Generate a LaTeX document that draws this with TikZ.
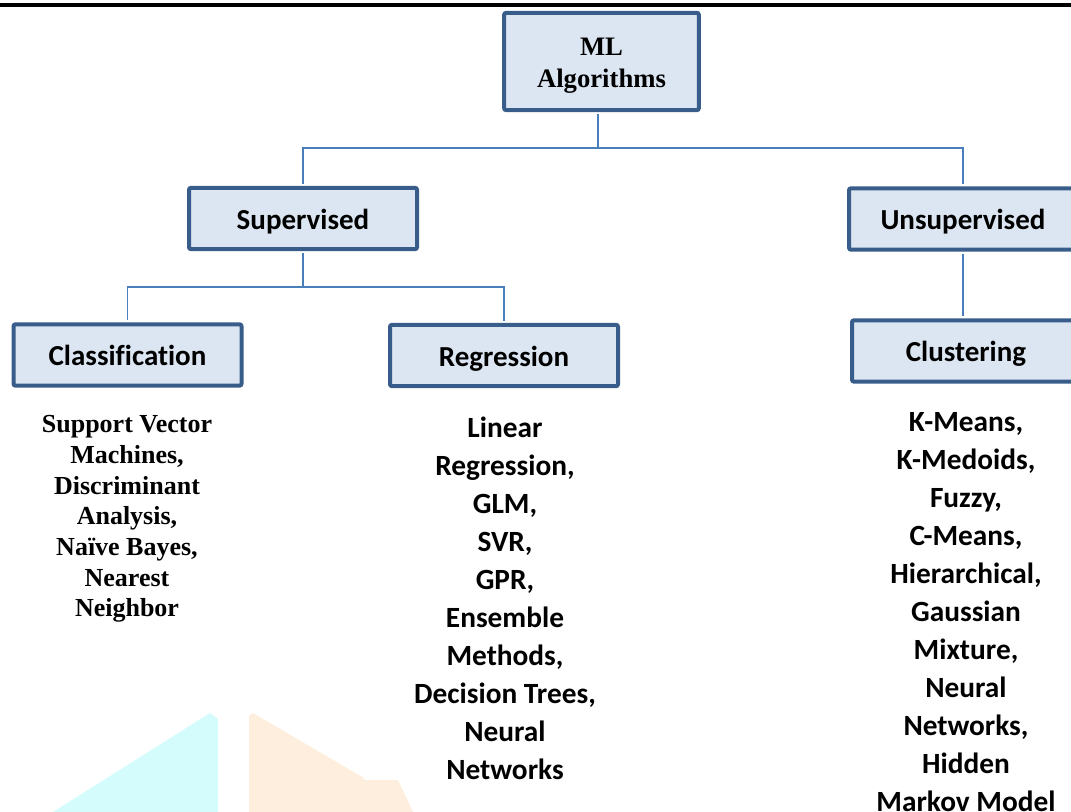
\documentclass[tikz,border=0pt]{standalone}
\usepackage{fontspec}
\setmainfont{Liberation Serif}
\newfontfamily\calibri[Ligatures=NoCommon]{Carlito}
\usetikzlibrary{positioning}

\definecolor{boxfill}{RGB}{220,230,242}
\definecolor{boxline}{RGB}{56,93,138}
\definecolor{linkblue}{RGB}{74,126,187}
\definecolor{markcyan}{RGB}{212,252,252}
\definecolor{markorange}{RGB}{253,238,221}

\tikzset{
  boxbase/.style={draw=boxline, fill=boxfill, line width=3pt, rounded corners=1.5pt, inner sep=0pt},
  catbox/.style={boxbase, minimum width=171pt, minimum height=46pt,
    text height=16.5pt, text depth=0pt,
    font=\calibri\bfseries\fontsize{21.75}{26}\selectfont},
  link/.style={draw=linkblue, line width=1.1pt, shorten >=1.5pt},
  listtext/.style={align=center, inner sep=0pt,
    font=\calibri\bfseries\fontsize{22}{28.5}\selectfont},
}

\begin{document}
\begin{tikzpicture}[x=0.75pt,y=0.75pt,yscale=-1,xscale=1]
\useasboundingbox (0,0) rectangle (1071,812);

%Shape: top rule
\fill (0,3) rectangle (1071,7);

%Shape: faint marks
\fill[markcyan] (53,812) -- (210,713) -- (218,719) -- (218,812) -- cycle;
\fill[markorange] (249,812) -- (249,716) -- (253,713) -- (364,778) -- (364,780) -- (398,780) -- (413,812) -- cycle;

%Boxes
\node[boxbase, minimum width=146pt, minimum height=73pt, align=center, text height=44pt,
  font=\bfseries\fontsize{20}{24}\selectfont] (ml) at (601.5,61.5) {ML\\Algorithms};
\node[catbox] (sup) at (303,218.5) {Supervised};
\node[catbox] (uns) at (963,219) {Unsupervised};
\node[catbox] (cls) at (127.5,355) {Classification};
\node[catbox] (reg) at (504,355.5) {Regression};
\node[catbox] (clu) at (966,351) {Clustering};

%Straight Lines
\coordinate (mlj) at (598,148);
\coordinate (supj) at (303,287);
\draw[link] (mlj) -- (mlj |- ml.south);
\draw[link, shorten <=1.5pt] (sup.north) |- (mlj) -| (uns.north);
\draw[link] (supj) -- (sup.south);
\draw[link, shorten <=1.5pt] (cls.north) |- (supj) -| (reg.north);
\draw[link, shorten <=1.5pt] (uns.south) -- (uns.south |- clu.north);

% Text Node
\node[listtext, font=\bfseries\fontsize{19.5}{23}\selectfont] (clslist) at (127,519)
  {Support Vector\\Machines,\\Discriminant\\Analysis,\\Naïve Bayes,\\Nearest\\Neighbor};
% Text Node
\node[listtext] (reglist) at (505,598.5)
  {Linear\\Regression,\\GLM,\\SVR,\\GPR,\\Ensemble\\Methods,\\Decision Trees,\\Neural\\Networks};
% Text Node
\node[listtext] (clulist) at (966,612)
  {K-Means,\\K-Medoids,\\Fuzzy,\\C-Means,\\Hierarchical,\\Gaussian\\Mixture,\\Neural\\Networks,\\Hidden\\Markov Model};

\end{tikzpicture}
\end{document}
